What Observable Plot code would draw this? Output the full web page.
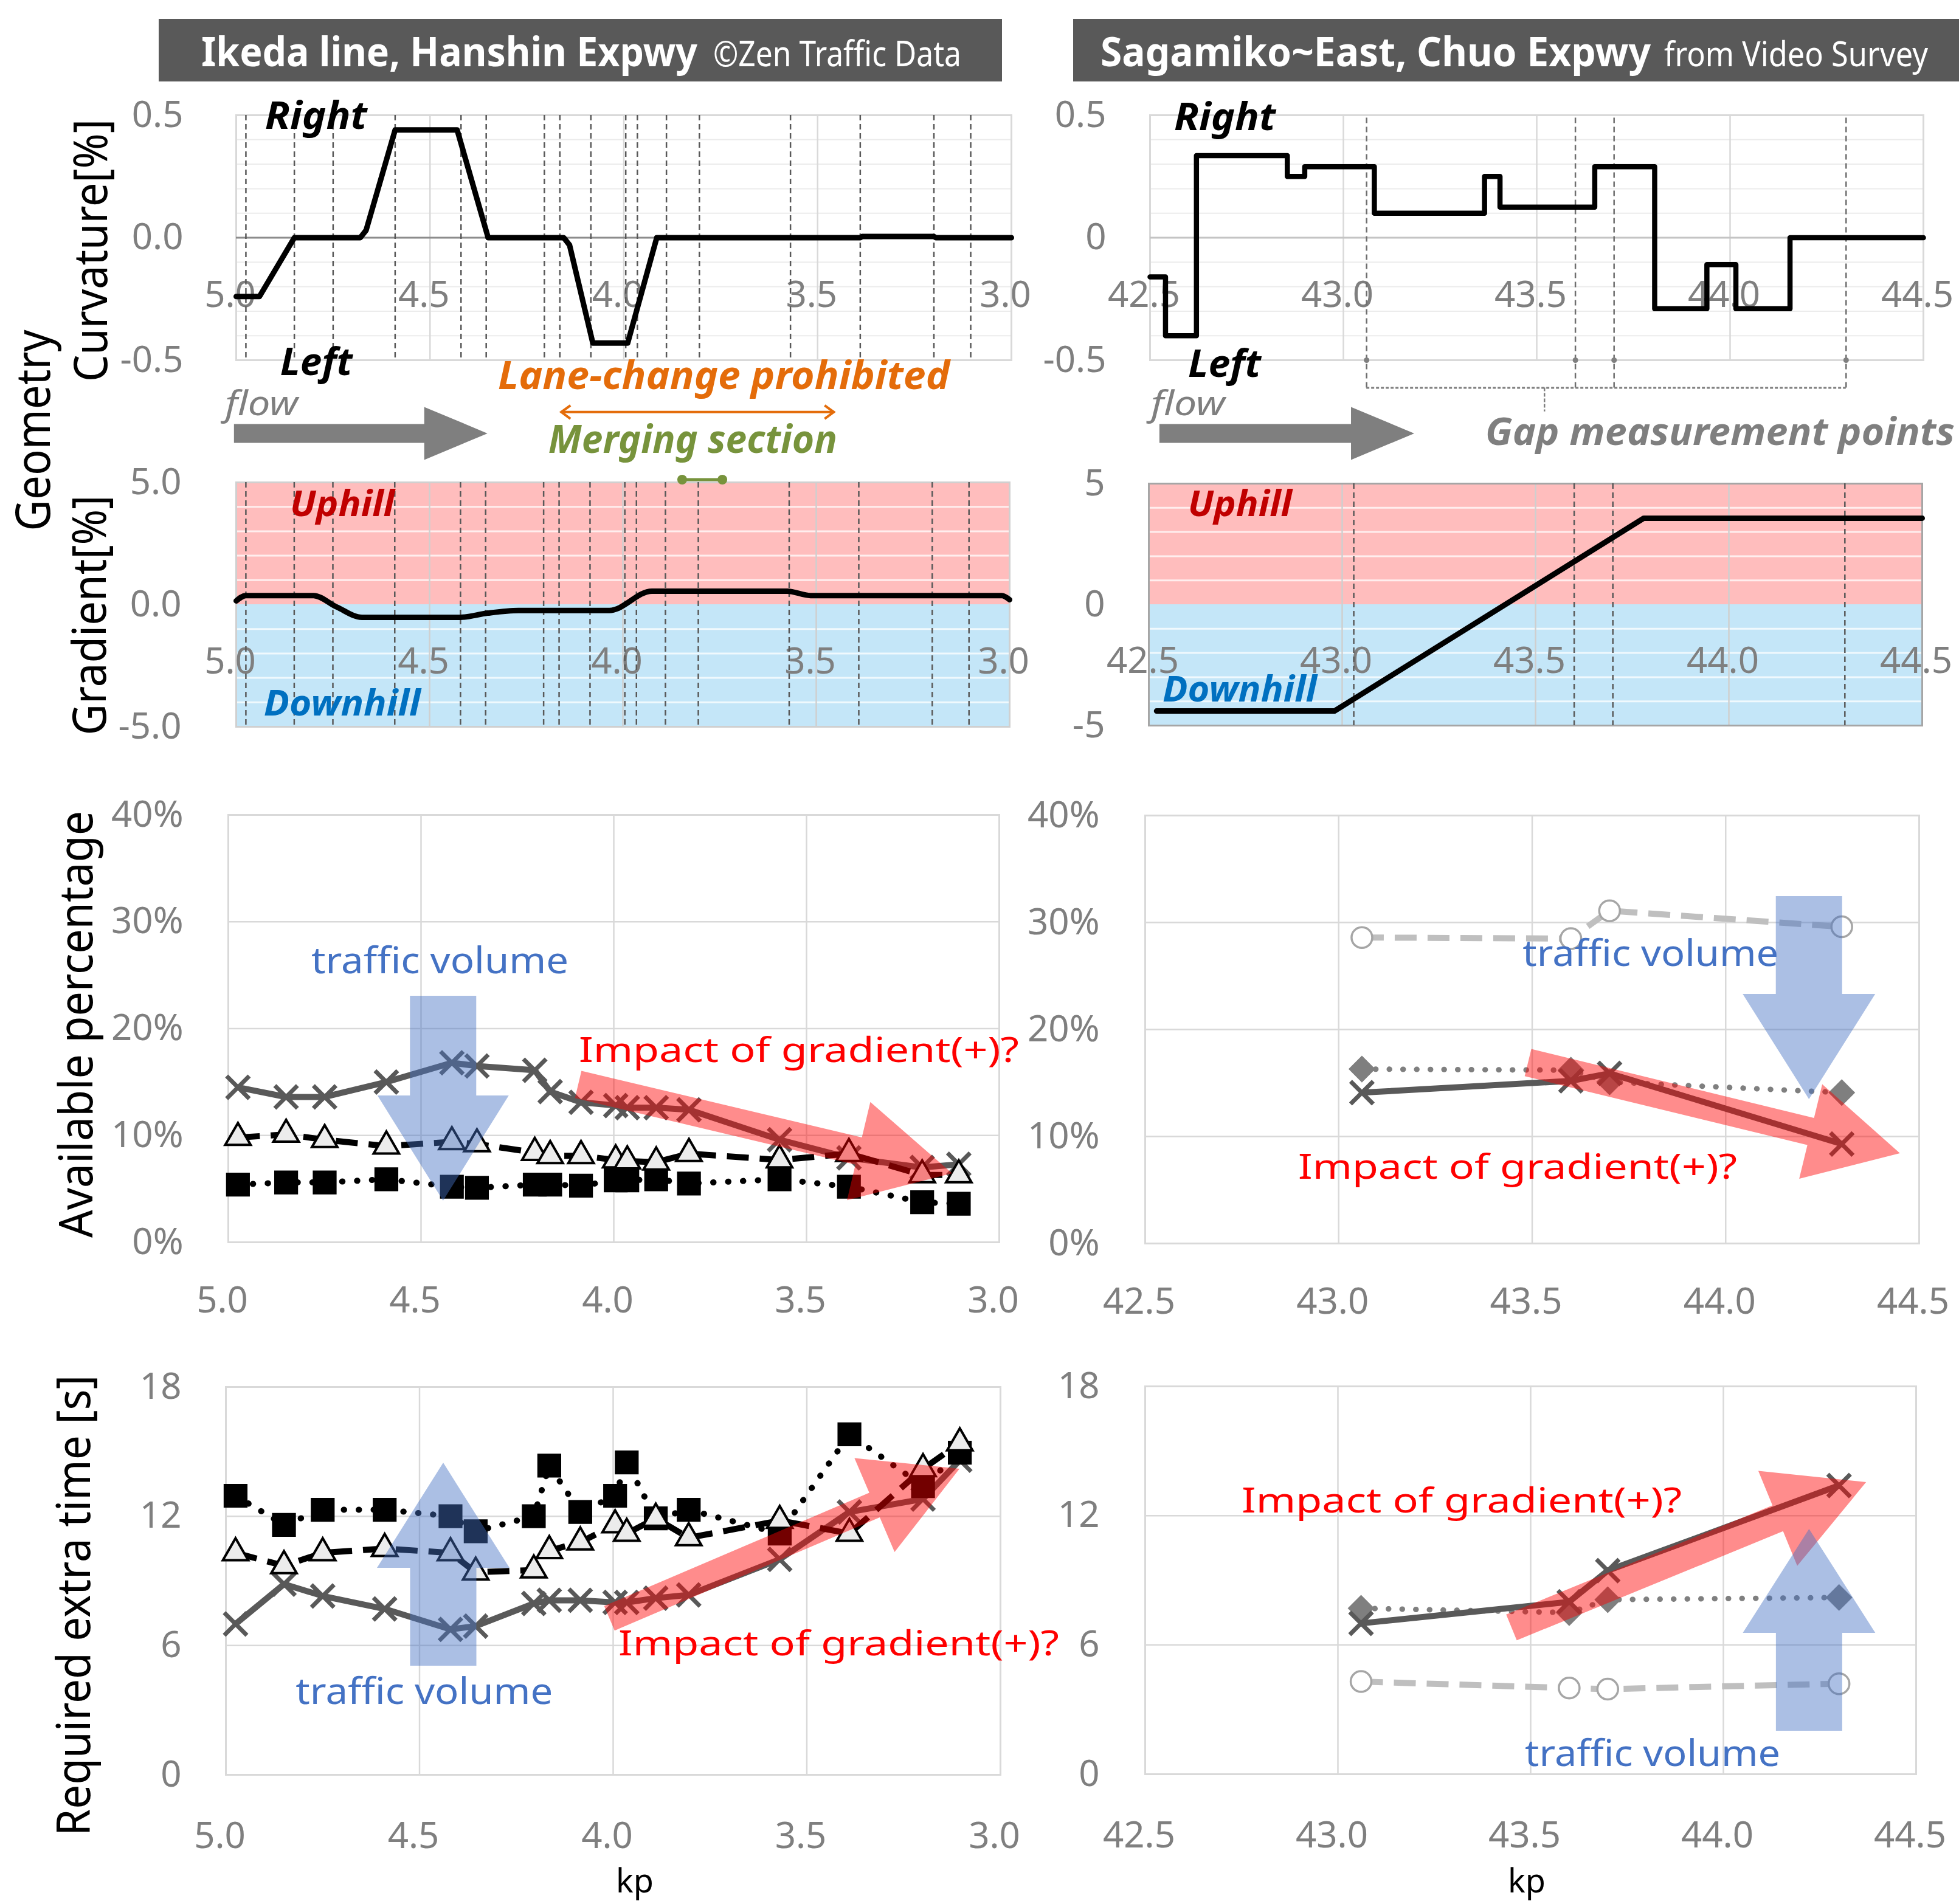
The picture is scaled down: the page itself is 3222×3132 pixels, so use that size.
<!DOCTYPE html>
<html>
<head>
<meta charset="utf-8">
<script src="https://cdn.jsdelivr.net/npm/d3@7"></script>
<script src="https://cdn.jsdelivr.net/npm/@observablehq/plot@0.6"></script>
<style>
html, body { margin: 0; padding: 0; background: #fff; }
#page { position: relative; width: 3222px; height: 3132px; overflow: hidden; background: #fff; }
</style>
</head>
<body>
<div id="page"></div>
<script>
// ================= DATA =================
// gap measurement points (kp)
const kpLeft = [4.975, 4.85, 4.75, 4.59, 4.42, 4.355, 4.205, 4.165, 4.085, 3.995, 3.965, 3.89, 3.805, 3.57, 3.39, 3.2, 3.105];
const kpRight = [43.06, 43.60, 43.70, 44.30];
const kpRightGradMarks = [43.03, 43.60, 43.70, 44.30];

// axis ticks
const kpTicksLeft = [5.0, 4.5, 4.0, 3.5, 3.0];
const kpTicksRight = [42.5, 43.0, 43.5, 44.0, 44.5];
const kpGridLeft = [4.5, 4.0, 3.5];
const kpGridRight = [43.0, 43.5, 44.0];
const curvTicks = [0.5, 0, -0.5];
const curvGrid = [-0.4, -0.3, -0.2, -0.1, 0.1, 0.2, 0.3, 0.4];
const gradTicks = [5, 0, -5];
const gradGrid = [-4, -3, -2, -1, 1, 2, 3, 4];
const availTicks = [0, 10, 20, 30, 40];
const reqTicks = [0, 6, 12, 18];

// geometry: curvature [%]
const curvLeftKp  = [5.0, 4.94, 4.85, 4.68, 4.665, 4.59, 4.43, 4.35, 4.155, 4.14, 4.08, 3.99, 3.915, 3.39, 3.385, 3.2, 3.195, 3.0];
const curvLeftVal = [-0.24, -0.24, 0, 0, 0.03, 0.44, 0.44, 0, 0, -0.03, -0.43, -0.43, 0, 0, 0.005, 0.005, 0, 0];
const curvRightKp  = [42.5, 42.54, 42.62, 42.855, 42.9, 43.08, 43.365, 43.405, 43.65, 43.805, 43.94, 44.015, 44.155, 44.5];
const curvRightVal = [-0.16, -0.40, 0.335, 0.25, 0.29, 0.10, 0.25, 0.125, 0.29, -0.29, -0.11, -0.29, 0, 0];
// geometry: gradient [%]
const gradLeftKp  = [5.0, 4.975, 4.80, 4.74, 4.675, 4.42, 4.35, 4.27, 4.035, 3.925, 3.575, 3.515, 3.02, 3.0];
const gradLeftVal = [0.15, 0.37, 0.37, -0.1, -0.52, -0.52, -0.35, -0.24, -0.24, 0.55, 0.55, 0.37, 0.37, 0.2];
const gradRightKp  = [42.52, 42.98, 43.78, 44.5];
const gradRightVal = [-4.4, -4.4, 3.57, 3.57];

// available percentage [%]
const availLeftCross = [14.5, 13.6, 13.6, 15.0, 16.8, 16.5, 16.1, 14.1, 13.1, 12.8, 12.6, 12.6, 12.4, 9.6, 7.9, 7.0, 7.3];
const availLeftTri   = [9.8, 10.1, 9.6, 9.0, 9.4, 9.2, 8.4, 8.1, 8.1, 7.7, 7.6, 7.5, 8.3, 7.7, 8.3, 6.3, 6.3];
const availLeftSq    = [5.4, 5.6, 5.6, 5.9, 5.2, 5.1, 5.4, 5.4, 5.3, 5.8, 5.8, 5.9, 5.5, 5.9, 5.2, 3.75, 3.6];
const availRightCircle  = [28.6, 28.5, 31.1, 29.6];
const availRightDiamond = [16.3, 16.2, 15.1, 14.1];
const availRightCross   = [14.1, 15.2, 15.9, 9.3];

// required extra time [s]
const reqLeftCross = [7.0, 8.85, 8.3, 7.7, 6.75, 6.9, 7.95, 8.1, 8.1, 8.0, 8.0, 8.2, 8.35, 10.0, 12.2, 12.8, 14.6];
const reqLeftTri   = [10.3, 9.7, 10.3, 10.5, 10.3, 9.4, 9.5, 10.4, 10.8, 11.6, 11.2, 11.9, 11.0, 11.8, 11.2, 14.2, 15.4];
const reqLeftSq    = [12.95, 11.6, 12.3, 12.3, 12.0, 11.3, 12.0, 14.35, 12.2, 12.95, 14.5, 11.9, 12.3, 11.2, 15.8, 13.4, 14.95];
const reqRightCross   = [7.0, 8.0, 9.45, 13.4];
const reqRightDiamond = [7.7, 7.5, 8.1, 8.2];
const reqRightCircle  = [4.3, 4.0, 3.95, 4.2];

// ================= HELPERS =================
const page = document.getElementById("page");
const FONT = "'Noto Sans', 'Open Sans', 'DejaVu Sans', sans-serif";
const TICK = {fontSize: 60, fill: "#7f7f7f", fontFamily: FONT};
const zip = (xs, ys) => xs.map((x, i) => ({kp: x, v: ys[i]}));
const fmt1 = d => d.toFixed(1);
const fmtR = d => d === 0 ? "0" : d.toFixed(1);
const fmtInt = d => String(d);
const fmtPct = d => d + "%";

function makePanel(frame, xDomain, yDomain, marks, annotate) {
  const mL = 260, mR = 160, mT = 100, mB = 220;
  const [x0, y0, x1, y1] = frame;
  const width = x1 - x0 + mL + mR, height = y1 - y0 + mT + mB;
  const svg = Plot.plot({
    width, height, marginLeft: mL, marginRight: mR, marginTop: mT, marginBottom: mB,
    x: {domain: xDomain, axis: null}, y: {domain: yDomain, axis: null},
    style: {background: "transparent", overflow: "visible", maxWidth: "none", fontFamily: FONT},
    marks
  });
  svg.style.position = "absolute";
  svg.style.left = (x0 - mL) + "px";
  svg.style.top = (y0 - mT) + "px";
  svg.setAttribute("overflow", "visible");
  page.appendChild(svg);
  let X = d3.scaleLinear(xDomain, [mL, width - mR]);
  let Y = d3.scaleLinear(yDomain, [height - mB, mT]);
  try {
    const sx = svg.scale && svg.scale("x"), sy = svg.scale && svg.scale("y");
    if (sx && sx.apply && sy && sy.apply) { X = v => sx.apply(v); Y = v => sy.apply(v); }
  } catch (e) {}
  if (annotate) annotate(d3.select(svg).append("g"), X, Y);
  return svg;
}

function fatArrow(g, X, Y, a) {
  const sx = X(a.from[0]), sy = Y(a.from[1]), tx = X(a.to[0]), ty = Y(a.to[1]);
  const dx = tx - sx, dy = ty - sy, L = Math.hypot(dx, dy);
  const ux = dx / L, uy = dy / L, nx = -uy, ny = ux;
  const bx = tx - ux * a.headL, by = ty - uy * a.headL, s = a.shaft / 2, h = a.head / 2;
  const pts = [[sx + nx * s, sy + ny * s], [bx + nx * s, by + ny * s], [bx + nx * h, by + ny * h], [tx, ty],
               [bx - nx * h, by - ny * h], [bx - nx * s, by - ny * s], [sx - nx * s, sy - ny * s]];
  g.append("polygon").attr("points", pts.map(p => p.join(",")).join(" "))
    .attr("fill", a.fill).attr("fill-opacity", a.opacity == null ? 1 : a.opacity);
}

function label(g, X, Y, t) {
  g.append("text")
    .attr("x", X(t.at[0])).attr("y", Y(t.at[1]))
    .attr("text-anchor", t.anchor || "start")
    .attr("font-family", FONT).attr("font-size", t.size)
    .attr("font-weight", t.bold ? 700 : 400)
    .attr("font-style", t.italic ? "italic" : "normal")
    .attr("fill", t.color)
    .attr("textLength", t.w).attr("lengthAdjust", "spacingAndGlyphs")
    .text(t.text);
}

function seriesMarks(kps, vals, s) {
  const data = zip(kps, vals);
  return [
    Plot.line(data, {x: "kp", y: "v", stroke: s.line, strokeWidth: s.lw, strokeDasharray: s.dash,
                     strokeLinecap: s.cap || "butt", strokeLinejoin: "round"}),
    Plot.dot(data, {x: "kp", y: "v", symbol: s.symbol, r: s.r, fill: s.fill, stroke: s.stroke,
                    strokeWidth: s.sw, rotate: s.rotate || 0})
  ];
}

const styleCross = {line: "#595959", lw: 10, symbol: "times", r: 17, fill: "none", stroke: "#595959", sw: 7};
const styleTri = {line: "#000", lw: 10, dash: "36,18", symbol: "triangle", r: 15.5, fill: "#ececec", stroke: "#000", sw: 4};
const styleSq = {line: "#000", lw: 10, dash: "0.5,24", cap: "round", symbol: "square", r: 21, fill: "#000", stroke: "#000", sw: 2};
const styleCircle = {line: "#bfbfbf", lw: 10, dash: "36,18", symbol: "circle", r: 17, fill: "#fff", stroke: "#a6a6a6", sw: 3.5};
const styleDiamond = {line: "#7f7f7f", lw: 9, dash: "0.5,22", cap: "round", symbol: "square", r: 17, fill: "#7f7f7f", stroke: "#7f7f7f", sw: 1, rotate: 45};

const RED = "#ff0000", BLUE = "#4472c4";
const ITALIC_BOLD = {bold: true, italic: true};

// ================= CURVATURE =================
makePanel([388, 189, 1663, 592], [5, 3], [-0.5, 0.5], [
  Plot.ruleY(curvGrid, {stroke: "#ececec", strokeWidth: 2}),
  Plot.ruleX(kpGridLeft, {stroke: "#d9d9d9", strokeWidth: 2.5}),
  Plot.frame({stroke: "#d9d9d9", strokeWidth: 3}),
  Plot.ruleY([0], {stroke: "#8c8c8c", strokeWidth: 3}),
  Plot.text(kpTicksLeft, {x: d => d, y: -0.235, dx: -10, text: fmt1, ...TICK}),
  Plot.text(curvTicks, {x: 5, y: d => d, textAnchor: "end", dx: -87, text: fmt1, ...TICK}),
  Plot.ruleX(kpLeft, {stroke: "#595959", strokeWidth: 2.5, strokeDasharray: "9,6"}),
  Plot.line(zip(curvLeftKp, curvLeftVal), {x: "kp", y: "v", stroke: "#000", strokeWidth: 9, strokeLinejoin: "round"})
], (g, X, Y) => {
  label(g, X, Y, {text: "Right", at: [4.925, 0.443], w: 168, size: 62, color: "#000", ...ITALIC_BOLD});
  label(g, X, Y, {text: "Left", at: [4.886, -0.562], w: 119, size: 62, color: "#000", ...ITALIC_BOLD});
  label(g, X, Y, {text: "flow", at: [5.028, -0.726], w: 120, size: 57, color: "#7f7f7f", italic: true});
  fatArrow(g, X, Y, {from: [5.005, -0.80], to: [4.351, -0.80], shaft: 31, head: 87, headL: 104, fill: "#7f7f7f"});
  label(g, X, Y, {text: "Lane-change prohibited", at: [4.324, -0.619], w: 743, size: 64, color: "#e46c0a", ...ITALIC_BOLD});
  label(g, X, Y, {text: "Merging section", at: [4.194, -0.88], w: 475, size: 64, color: "#77933c", ...ITALIC_BOLD});
  // orange double-headed arrow
  const ya = Y(-0.713), xa = X(4.162), xb = X(3.456);
  g.append("line").attr("x1", xa).attr("x2", xb).attr("y1", ya).attr("y2", ya)
    .attr("stroke", "#e46c0a").attr("stroke-width", 4);
  g.append("path").attr("d", `M${xa + 16},${ya - 11}L${xa + 1},${ya}L${xa + 16},${ya + 11}M${xb - 16},${ya - 11}L${xb - 1},${ya}L${xb - 16},${ya + 11}`)
    .attr("fill", "none").attr("stroke", "#e46c0a").attr("stroke-width", 4);
});

makePanel([1891, 189, 3163, 592], [42.5, 44.5], [-0.5, 0.5], [
  Plot.ruleY(curvGrid, {stroke: "#ececec", strokeWidth: 2}),
  Plot.ruleX(kpGridRight, {stroke: "#d9d9d9", strokeWidth: 2.5}),
  Plot.frame({stroke: "#d9d9d9", strokeWidth: 3}),
  Plot.ruleY([0], {stroke: "#c4c4c4", strokeWidth: 3}),
  Plot.text(kpTicksRight, {x: d => d, y: -0.235, dx: -10, text: fmt1, ...TICK}),
  Plot.text(curvTicks, {x: 42.5, y: d => d, textAnchor: "end", dx: -72, text: fmtR, ...TICK}),
  Plot.ruleX(kpRight, {y1: -0.613, y2: 0.5, stroke: "#6f6f6f", strokeWidth: 2.5, strokeDasharray: "9,6"}),
  Plot.ruleY([-0.613], {x1: kpRight[0], x2: kpRight[kpRight.length - 1], stroke: "#7f7f7f", strokeWidth: 3, strokeDasharray: "5,3"}),
  Plot.ruleX([43.52], {y1: -0.613, y2: -0.71, stroke: "#7f7f7f", strokeWidth: 2.5, strokeDasharray: "6,3"}),
  Plot.dot(kpRight, {x: d => d, y: -0.5, r: 4.5, fill: "#7f7f7f"}),
  Plot.line(zip(curvRightKp, curvRightVal), {x: "kp", y: "v", curve: "step-after", stroke: "#000", strokeWidth: 8.5})
], (g, X, Y) => {
  label(g, X, Y, {text: "Right", at: [42.563, 0.438], w: 167, size: 62, color: "#000", ...ITALIC_BOLD});
  label(g, X, Y, {text: "Left", at: [42.599, -0.569], w: 120, size: 62, color: "#000", ...ITALIC_BOLD});
  label(g, X, Y, {text: "flow", at: [42.503, -0.726], w: 122, size: 57, color: "#7f7f7f", italic: true});
  fatArrow(g, X, Y, {from: [42.525, -0.80], to: [43.184, -0.80], shaft: 31, head: 87, headL: 104, fill: "#7f7f7f"});
  label(g, X, Y, {text: "Gap measurement points", at: [43.368, -0.847], w: 772, size: 62, color: "#7f7f7f", ...ITALIC_BOLD});
});

// ================= GRADIENT =================
makePanel([388, 793, 1660, 1195], [5, 3], [-5, 5], [
  Plot.rect([0], {x1: 5, x2: 3, y1: 0, y2: 5, fill: "#ffbdbd"}),
  Plot.rect([0], {x1: 5, x2: 3, y1: -5, y2: 0, fill: "#c4e6f8"}),
  Plot.ruleY(gradGrid, {stroke: "#fff", strokeOpacity: 0.75, strokeWidth: 3}),
  Plot.ruleX(kpGridLeft, {stroke: "#cfcfcf", strokeWidth: 2.5}),
  Plot.frame({stroke: "#d0d0d0", strokeWidth: 3}),
  Plot.text(kpTicksLeft, {x: d => d, y: -2.34, dx: -10, text: fmt1, ...TICK}),
  Plot.text(gradTicks, {x: 5, y: d => d, textAnchor: "end", dx: -90, text: fmt1, ...TICK}),
  Plot.ruleX(kpLeft, {stroke: "#595959", strokeWidth: 2.5, strokeDasharray: "9,6"}),
  Plot.line(zip(gradLeftKp, gradLeftVal), {x: "kp", y: "v", stroke: "#000", strokeWidth: 9, curve: "monotone-x", strokeLinejoin: "round"})
], (g, X, Y) => {
  label(g, X, Y, {text: "Uphill", at: [4.86, 3.607], w: 172, size: 59, color: "#c00000", ...ITALIC_BOLD});
  label(g, X, Y, {text: "Downhill", at: [4.928, -4.552], w: 258, size: 59, color: "#0070c0", ...ITALIC_BOLD});
  const yg = Y(5.1), xa = X(3.846), xb = X(3.742);
  g.append("line").attr("x1", xa).attr("x2", xb).attr("y1", yg).attr("y2", yg).attr("stroke", "#77933c").attr("stroke-width", 5);
  g.append("circle").attr("cx", xa).attr("cy", yg).attr("r", 8).attr("fill", "#77933c");
  g.append("circle").attr("cx", xb).attr("cy", yg).attr("r", 8).attr("fill", "#77933c");
});

makePanel([1889, 795, 3161, 1193], [42.5, 44.5], [-5, 5], [
  Plot.rect([0], {x1: 42.5, x2: 44.5, y1: 0, y2: 5, fill: "#ffbdbd"}),
  Plot.rect([0], {x1: 42.5, x2: 44.5, y1: -5, y2: 0, fill: "#c4e6f8"}),
  Plot.ruleY(gradGrid, {stroke: "#fff", strokeOpacity: 0.75, strokeWidth: 3}),
  Plot.ruleX(kpGridRight, {stroke: "#cfcfcf", strokeWidth: 2.5}),
  Plot.frame({stroke: "#a6a6a6", strokeWidth: 3}),
  Plot.text(kpTicksRight, {x: d => d, y: -2.34, dx: -10, text: fmt1, ...TICK}),
  Plot.text(gradTicks, {x: 42.5, y: d => d, textAnchor: "end", dx: -72, text: fmtInt, ...TICK}),
  Plot.ruleX(kpRightGradMarks, {stroke: "#595959", strokeWidth: 2.5, strokeDasharray: "9,6"}),
  Plot.line(zip(gradRightKp, gradRightVal), {x: "kp", y: "v", stroke: "#000", strokeWidth: 9, strokeLinecap: "round"})
], (g, X, Y) => {
  label(g, X, Y, {text: "Uphill", at: [42.602, 3.643], w: 171, size: 59, color: "#c00000", ...ITALIC_BOLD});
  label(g, X, Y, {text: "Downhill", at: [42.536, -4.02], w: 254, size: 59, color: "#0070c0", ...ITALIC_BOLD});
});

// ================= AVAILABLE PERCENTAGE =================
makePanel([375, 1340, 1643, 2043], [5, 3], [0, 40], [
  Plot.ruleY([10, 20, 30], {stroke: "#d9d9d9", strokeWidth: 2.5}),
  Plot.ruleX(kpGridLeft, {stroke: "#d9d9d9", strokeWidth: 2.5}),
  Plot.frame({stroke: "#d9d9d9", strokeWidth: 3}),
  Plot.text(availTicks, {x: 5, y: d => d, textAnchor: "end", dx: -74, text: fmtPct, ...TICK}),
  Plot.text(kpTicksLeft, {x: d => d, y: 0, dy: 96, dx: -10, text: fmt1, ...TICK}),
  ...seriesMarks(kpLeft, availLeftCross, styleCross),
  ...seriesMarks(kpLeft, availLeftSq, styleSq),
  ...seriesMarks(kpLeft, availLeftTri, styleTri)
], (g, X, Y) => {
  fatArrow(g, X, Y, {from: [4.442, 23.04], to: [4.442, 3.87], shaft: 109, head: 216, headL: 173, fill: BLUE, opacity: 0.45});
  fatArrow(g, X, Y, {from: [4.0915, 14.74], to: [3.1215, 6.43], shaft: 46, head: 166, headL: 158, fill: RED, opacity: 0.45});
  label(g, X, Y, {text: "traffic volume", at: [4.784, 25.15], w: 423, size: 60, color: BLUE});
  label(g, X, Y, {text: "Impact of gradient(+)?", at: [4.090, 16.84], w: 724, size: 57, color: RED});
});

makePanel([1883, 1341, 3156, 2045], [42.5, 44.5], [0, 40], [
  Plot.ruleY([10, 20, 30], {stroke: "#d9d9d9", strokeWidth: 2.5}),
  Plot.ruleX(kpGridRight, {stroke: "#d9d9d9", strokeWidth: 2.5}),
  Plot.frame({stroke: "#d9d9d9", strokeWidth: 3}),
  Plot.text(availTicks, {x: 42.5, y: d => d, textAnchor: "end", dx: -75, text: fmtPct, ...TICK}),
  Plot.text(kpTicksRight, {x: d => d, y: 0, dy: 96, dx: -10, text: fmt1, ...TICK}),
  ...seriesMarks(kpRight, availRightCircle, styleCircle),
  ...seriesMarks(kpRight, availRightDiamond, styleDiamond),
  ...seriesMarks(kpRight, availRightCross, styleCross)
], (g, X, Y) => {
  fatArrow(g, X, Y, {from: [44.216, 32.44], to: [44.216, 13.47], shaft: 109, head: 218, headL: 173, fill: BLUE, opacity: 0.45});
  fatArrow(g, X, Y, {from: [43.49, 16.88], to: [44.451, 8.41], shaft: 46, head: 160, headL: 151, fill: RED, opacity: 0.45});
  label(g, X, Y, {text: "traffic volume", at: [43.476, 25.9], w: 421, size: 60, color: BLUE});
  label(g, X, Y, {text: "Impact of gradient(+)?", at: [42.896, 6.05], w: 722, size: 57, color: RED});
});

// ================= REQUIRED EXTRA TIME =================
makePanel([371, 2281, 1645, 2919], [5, 3], [0, 18], [
  Plot.ruleY([6, 12], {stroke: "#d9d9d9", strokeWidth: 2.5}),
  Plot.ruleX(kpGridLeft, {stroke: "#d9d9d9", strokeWidth: 2.5}),
  Plot.frame({stroke: "#d9d9d9", strokeWidth: 3}),
  Plot.text(reqTicks, {x: 5, y: d => d, textAnchor: "end", dx: -73, text: fmtInt, ...TICK}),
  Plot.text(kpTicksLeft, {x: d => d, y: 0, dy: 101, dx: -10, text: fmt1, ...TICK}),
  ...seriesMarks(kpLeft, reqLeftCross, styleCross),
  ...seriesMarks(kpLeft, reqLeftSq, styleSq),
  ...seriesMarks(kpLeft, reqLeftTri, styleTri)
], (g, X, Y) => {
  fatArrow(g, X, Y, {from: [4.438, 5.05], to: [4.438, 14.47], shaft: 109, head: 218, headL: 173, fill: BLUE, opacity: 0.45});
  fatArrow(g, X, Y, {from: [4.009, 7.25], to: [3.105, 14.19], shaft: 44, head: 168, headL: 152, fill: RED, opacity: 0.45});
  label(g, X, Y, {text: "traffic volume", at: [4.819, 3.27], w: 423, size: 60, color: BLUE});
  label(g, X, Y, {text: "Impact of gradient(+)?", at: [3.986, 5.53], w: 725, size: 57, color: RED});
});

makePanel([1883, 2280, 3151, 2918], [42.5, 44.5], [0, 18], [
  Plot.ruleY([6, 12], {stroke: "#d9d9d9", strokeWidth: 2.5}),
  Plot.ruleX(kpGridRight, {stroke: "#d9d9d9", strokeWidth: 2.5}),
  Plot.frame({stroke: "#d9d9d9", strokeWidth: 3}),
  Plot.text(reqTicks, {x: 42.5, y: d => d, textAnchor: "end", dx: -75, text: fmtInt, ...TICK}),
  Plot.text(kpTicksRight, {x: d => d, y: 0, dy: 101, dx: -10, text: fmt1, ...TICK}),
  ...seriesMarks(kpRight, reqRightCircle, styleCircle),
  ...seriesMarks(kpRight, reqRightDiamond, styleDiamond),
  ...seriesMarks(kpRight, reqRightCross, styleCross)
], (g, X, Y) => {
  fatArrow(g, X, Y, {from: [43.451, 6.8], to: [44.371, 13.54], shaft: 46, head: 169, headL: 157, fill: RED, opacity: 0.45});
  fatArrow(g, X, Y, {from: [44.223, 2.0], to: [44.223, 11.37], shaft: 109, head: 218, headL: 171, fill: BLUE, opacity: 0.45});
  label(g, X, Y, {text: "Impact of gradient(+)?", at: [42.751, 12.13], w: 724, size: 57, color: RED});
  label(g, X, Y, {text: "traffic volume", at: [43.486, 0.38], w: 420, size: 60, color: BLUE});
});

// ================= PAGE TEXT (titles, axis titles) =================
const over = d3.create("svg").attr("width", 3222).attr("height", 3132)
  .style("position", "absolute").style("left", "0px").style("top", "0px").style("pointer-events", "none")
  .attr("font-family", FONT);
over.append("rect").attr("x", 261).attr("y", 31).attr("width", 1387).attr("height", 103).attr("fill", "#595959");
over.append("rect").attr("x", 1765).attr("y", 31).attr("width", 1457).attr("height", 103).attr("fill", "#595959");
function ptext(t) {
  const e = over.append("text").attr("x", t.x).attr("y", t.y).attr("font-size", t.size)
    .attr("font-weight", t.bold ? 700 : 400).attr("fill", t.color || "#000")
    .attr("text-anchor", t.anchor || "start").attr("textLength", t.w).attr("lengthAdjust", "spacingAndGlyphs")
    .text(t.text);
  if (t.rotate) e.attr("x", 0).attr("y", 0).attr("transform", `translate(${t.x},${t.y}) rotate(-90)`);
  return e;
}
ptext({text: "Ikeda line, Hanshin Expwy", x: 331, y: 109, w: 816, size: 66, bold: true, color: "#fff"});
ptext({text: "\u00A9Zen Traffic Data", x: 1173, y: 109, w: 408, size: 58, color: "#fff"});
ptext({text: "Sagamiko~East, Chuo Expwy", x: 1810, y: 109, w: 905, size: 66, bold: true, color: "#fff"});
ptext({text: "from Video Survey", x: 2737, y: 109, w: 434, size: 56, color: "#fff"});
ptext({text: "Geometry", x: 82, y: 708, w: 331, size: 78, anchor: "middle", rotate: true});
ptext({text: "Curvature[%]", x: 176, y: 412, w: 432, size: 76, anchor: "middle", rotate: true});
ptext({text: "Gradient[%]", x: 174, y: 1012, w: 395, size: 76, anchor: "middle", rotate: true});
ptext({text: "Available percentage", x: 152, y: 1685, w: 702, size: 76, anchor: "middle", rotate: true});
ptext({text: "Required extra time [s]", x: 148, y: 2641, w: 758, size: 76, anchor: "middle", rotate: true});
ptext({text: "kp", x: 1044, y: 3113, w: 62, size: 55, anchor: "middle"});
ptext({text: "kp", x: 2511, y: 3113, w: 62, size: 55, anchor: "middle"});
page.appendChild(over.node());
</script>
</body>
</html>
